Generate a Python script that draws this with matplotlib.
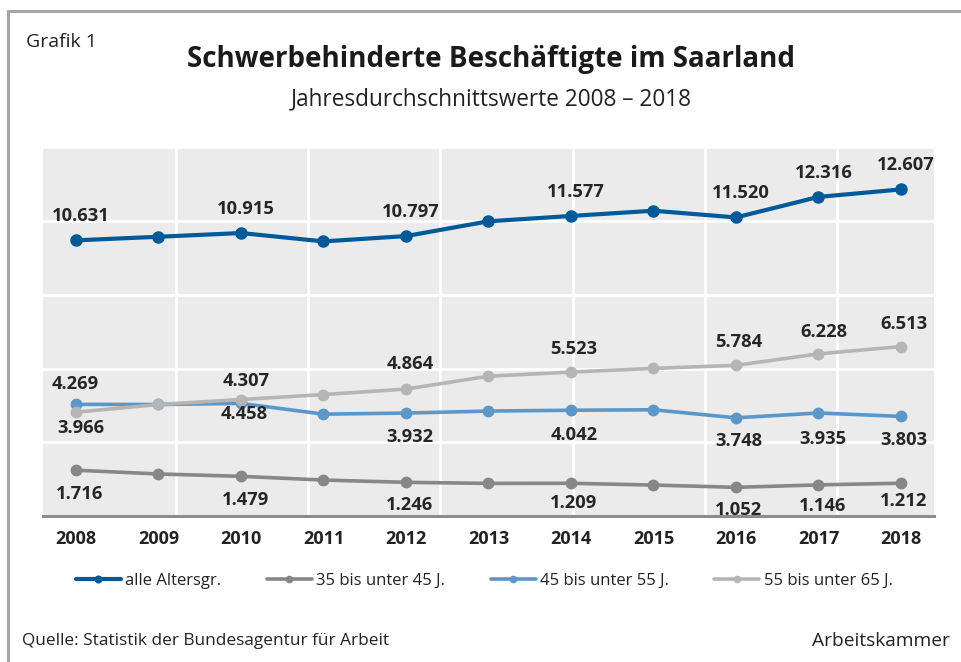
import matplotlib
matplotlib.use("Agg")
import matplotlib.pyplot as plt
from matplotlib.lines import Line2D
import numpy as np

plt.rcParams['font.family'] = ['Open Sans', 'DejaVu Sans']

years = [2008, 2009, 2010, 2011, 2012, 2013, 2014, 2015, 2016, 2017, 2018]
alle = [10631, 10770, 10915, 10590, 10797, 11370, 11577, 11780, 11520, 12316, 12607]
j35_45 = [1716, 1570, 1479, 1334, 1246, 1205, 1209, 1140, 1052, 1146, 1212]
j45_55 = [4269, 4265, 4307, 3890, 3932, 4010, 4042, 4060, 3748, 3935, 3803]
j55_65 = [3966, 4265, 4458, 4650, 4864, 5360, 5523, 5665, 5784, 6228, 6513]
series_names = ["alle Altersgr.", "35 bis unter 45 J.", "45 bis unter 55 J.", "55 bis unter 65 J."]

colors = ["#005a9a", "#878787", "#5b97c9", "#b5b5b5"]
lws = [3.0, 2.6, 2.6, 2.6]
mss = [8.0, 7.5, 7.5, 7.5]

# label offsets in pixels (index -> (dx, dy)), style only
label_offsets = [
    {0: (5, 24), 2: (5, 24), 4: (5, 24), 6: (5, 24), 8: (5, 24), 9: (5, 24), 10: (5, 24)},
    {0: (4, -24), 2: (5, -24), 4: (4, -23), 6: (3, -20), 8: (3, -23), 9: (4, -21), 10: (3, -18)},
    {0: (-1, 20), 2: (5, 22), 4: (4, -24), 6: (3, -25), 8: (3, -23), 9: (4, -26), 10: (3, -24)},
    {0: (5, -16), 2: (3, -14), 4: (4, 25), 6: (3, 23), 8: (3, 23), 9: (5, 22), 10: (3, 23)},
]

fig = plt.figure(figsize=(9.62, 6.62), dpi=100)
fig.patch.set_facecolor("white")

ax = fig.add_axes([43.3 / 962, 1 - 516 / 662, (934.3 - 43.3) / 962, (516 - 147.3) / 662])
ax.set_facecolor("#ebebeb")

data = [alle, j35_45, j45_55, j55_65]
for vals, col, lw, ms, name, offs in zip(data, colors, lws, mss, series_names, label_offsets):
    ax.plot(years, vals, color=col, lw=lw, marker='o', ms=ms, label=name,
            solid_capstyle='round', zorder=3)
    for i, (dx, dy) in offs.items():
        txt = f"{vals[i]:,}".replace(",", ".")
        ax.annotate(txt, (years[i], vals[i]), xytext=(dx, dy), textcoords='offset pixels',
                    ha='center', va='center', fontsize=13.2, fontweight='bold',
                    color="#262626", zorder=4)

ymin, ymax = -60, 14240
ax.set_ylim(ymin, ymax)
ax.set_xlim(2007.604, 2018.404)
ax.set_yticks(np.linspace(ymin, ymax, 6))
ax.set_yticklabels([])
ax.set_xticks(years)
ax.set_xticklabels([str(y) for y in years], fontsize=13, fontweight='bold', color="#222222")
ax.set_xticks(np.arange(2007.604 + 1.604, 2018.3, 1.604), minor=True)
ax.tick_params(axis='both', which='both', length=0)
ax.tick_params(axis='x', which='major', pad=10)
ax.grid(axis='y', which='major', color='white', lw=2)
ax.grid(axis='x', which='minor', color='white', lw=2)
ax.set_axisbelow(True)
for s in ['top', 'right', 'left']:
    ax.spines[s].set_visible(False)
ax.spines['bottom'].set_color('#8c8c8c')
ax.spines['bottom'].set_linewidth(2.2)
ax.spines['bottom'].set_zorder(5)

# legend
handles, labels = ax.get_legend_handles_labels()
leg = fig.legend(handles, labels, loc='center', bbox_to_anchor=(484 / 962, 1 - 581 / 662),
                 ncol=4, frameon=False, fontsize=12, markerscale=0.6,
                 handlelength=2.7, handletextpad=0.25, columnspacing=2.75)
for t in leg.get_texts():
    t.set_color("#222222")

# titles and texts
fig.text(26 / 962, 1 - 42 / 662, "Grafik 1", fontsize=14, color="#222222", va='center', ha='left')
fig.text(491 / 962, 1 - 60 / 662, "Schwerbehinderte Beschäftigte im Saarland", fontsize=20,
         fontweight='bold', color="#1a1a1a", ha='center', va='center')
fig.text(491 / 962, 1 - 99 / 662, "Jahresdurchschnittswerte 2008 – 2018", fontsize=16.3,
         color="#222222", ha='center', va='center')
fig.text(22 / 962, 1 - 641 / 662, "Quelle: Statistik der Bundesagentur für Arbeit", fontsize=12.4,
         color="#222222", ha='left', va='center')
fig.text(950 / 962, 1 - 641 / 662, "Arbeitskammer", fontsize=13.8, color="#222222",
         ha='right', va='center')

# frame lines
fig.add_artist(Line2D([8 / 962, 1.0], [1 - 11 / 662, 1 - 11 / 662], color="#a6a6a6", lw=2.2,
                      transform=fig.transFigure))
fig.add_artist(Line2D([8 / 962, 8 / 962], [0, 1 - 11 / 662], color="#a6a6a6", lw=2.2,
                      transform=fig.transFigure))

fig.savefig("out.png", dpi=100)
